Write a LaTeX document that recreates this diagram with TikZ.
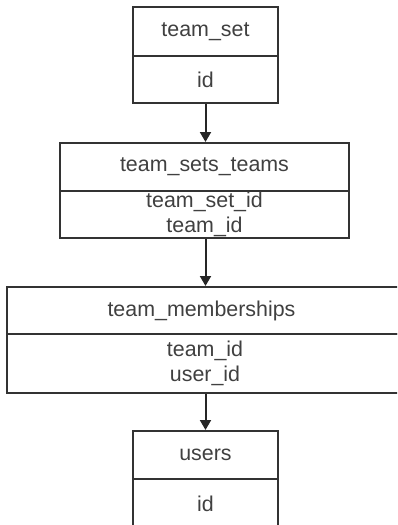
\documentclass[tikz,border=0pt]{standalone}
\usepackage{fontspec}
\setmainfont{Liberation Sans}
\usetikzlibrary{arrows.meta}
\tikzset{
  part/.style={draw=black!80, line width=2pt, rectangle, inner sep=0pt, text=black!75,
    font=\fontsize{21.4}{25}\selectfont, align=center},
  link/.style={draw=black!85, line width=2pt, -{Triangle[length=10pt,width=11pt]}}
}
\begin{document}
\begin{tikzpicture}[x=1pt,y=-1pt]
\useasboundingbox (0,0) rectangle (397,525);
\clip (0,0) rectangle (397,525);
\node[part, minimum width=145pt, minimum height=49pt] (b1t) at (205.5,31.5) {team\_set};
\node[part, minimum width=145pt, minimum height=47pt] (b1a) at (205.5,79.5) {id};
\node[part, minimum width=289pt, minimum height=48pt] (b2t) at (204.5,167) {team\_sets\_teams};
\node[part, minimum width=289pt, minimum height=47pt] (b2a) at (204.5,214.5) {team\_set\_id\\team\_id};
\node[part, minimum width=400pt, minimum height=47pt] (b3t) at (207,310.5) {\hspace*{-11pt}team\_memberships};
\node[part, minimum width=400pt, minimum height=59pt] (b3a) at (207,363.5) {\hspace*{-4pt}team\_id\\\hspace*{-4pt}user\_id};
\node[part, minimum width=145pt, minimum height=48pt] (b4t) at (205.5,455) {users};
\node[part, minimum width=145pt, minimum height=60pt, text depth=0pt] (b4a) at (205.5,509) {\raisebox{11pt}{id}};
\draw[link] (b1a.south) -- (b1a.south |- b2t.north);
\draw[link] (b1a.south |- b2a.south) -- (b1a.south |- b3t.north);
\draw[link] (b1a.south |- b3a.south) -- (b4t.north);
\end{tikzpicture}
\end{document}
